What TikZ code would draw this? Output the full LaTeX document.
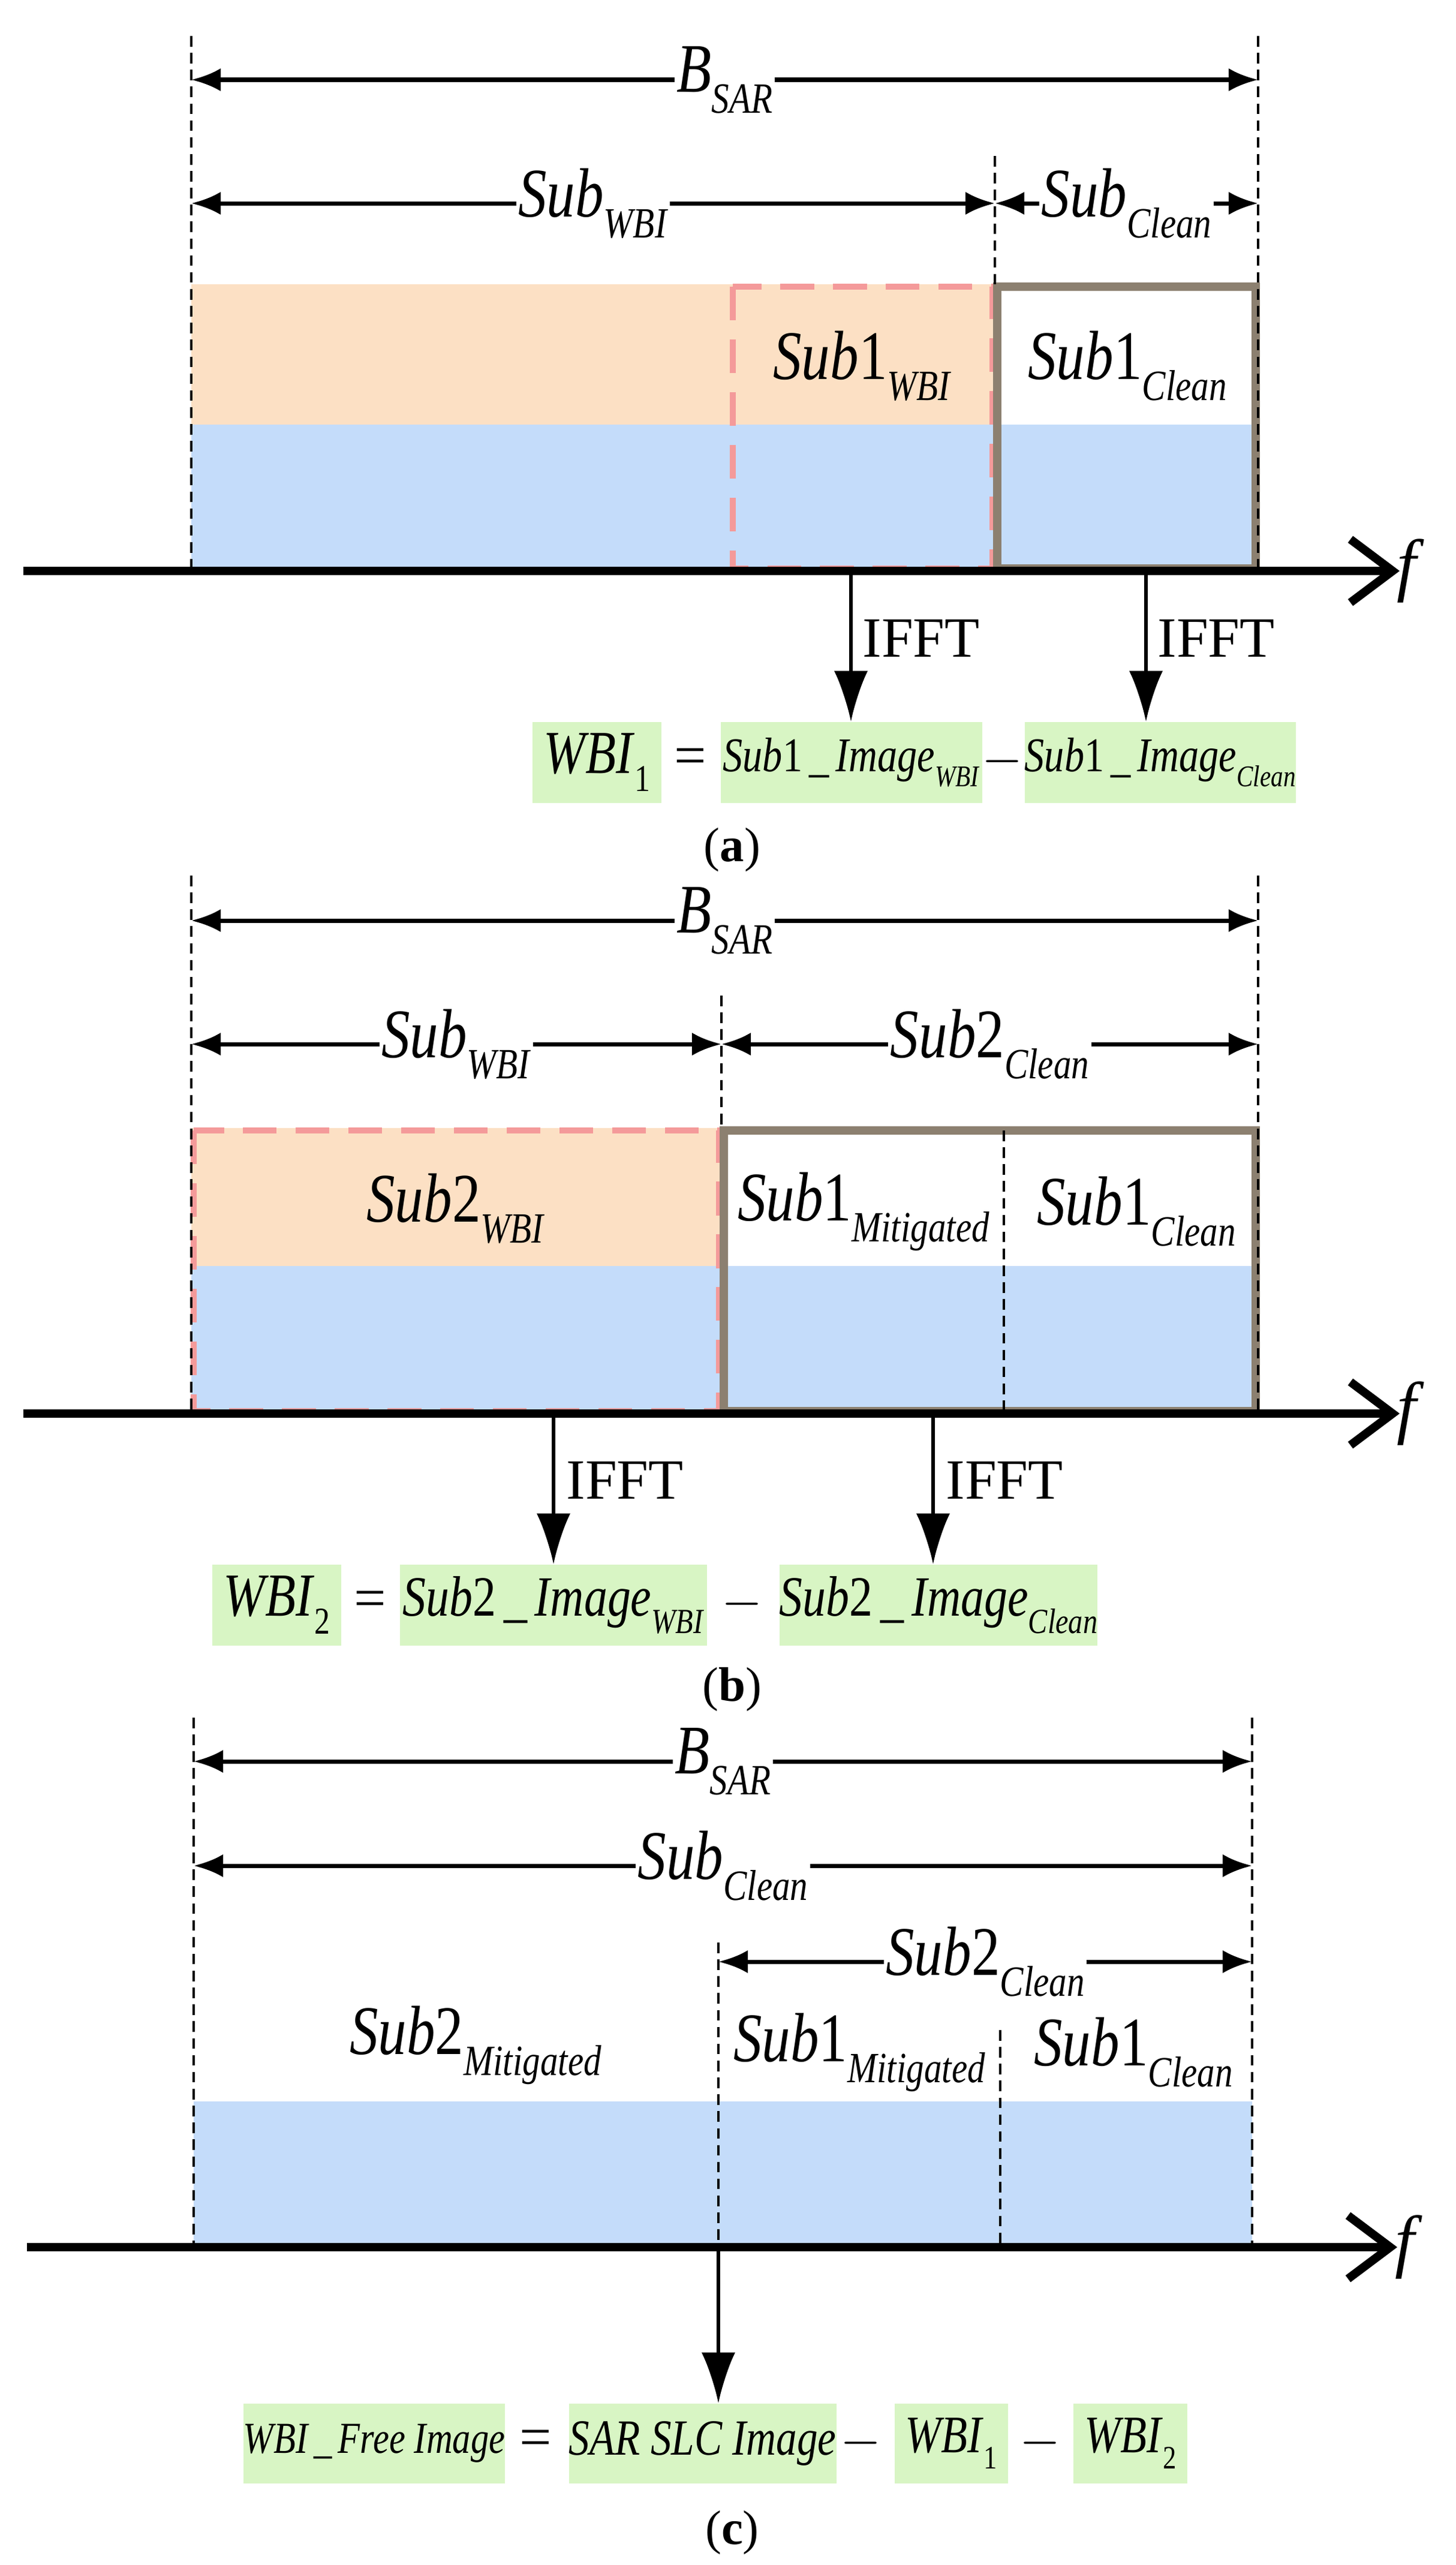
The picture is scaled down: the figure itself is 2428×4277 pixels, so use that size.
\documentclass[tikz,border=0pt]{standalone}
\usepackage{fontspec}
\setmainfont{Liberation Serif}
\usetikzlibrary{arrows.meta}
\definecolor{org}{HTML}{FCE0C4}
\definecolor{blu}{HTML}{C4DCFA}
\definecolor{grn}{HTML}{D8F5C4}
\definecolor{redd}{HTML}{F49A9A}
\definecolor{gry}{HTML}{8C8070}
\newcommand\lbl[2]{\scalebox{0.82}[1]{\textit{#1}\raisebox{-0.3em}{\scalebox{0.62}{\textit{#2}}}}}
\newcommand\up[1]{\textup{#1}}
\begin{document}
\begin{tikzpicture}[x=0.01cm,y=-0.01cm,
  vdash/.style={dash pattern=on 5pt off 3pt,line width=1.2pt},
  dim/.style={{Latex[length=14pt,width=11pt]}-{Latex[length=14pt,width=11pt]},line width=2pt},
  big/.style={font=\fontsize{33}{33}\selectfont,fill=white,inner sep=1pt},
  lab/.style={font=\fontsize{33}{33}\selectfont,inner sep=1pt},
  axis/.style={line width=4pt,-{Straight Barb[length=20pt,width=30pt,line width=4pt]}},
  down/.style={line width=1.5pt,-{Latex[length=24pt,width=16pt]}},
  eq/.style={fill=grn,font=\fontsize{23}{23}\selectfont,inner sep=0pt,anchor=north west},
  ifft/.style={font=\fontsize{27}{27}\selectfont,anchor=west},
  captxt/.style={font=\fontsize{23}{23}\selectfont}]
\useasboundingbox (0,0) rectangle (2428,4277);
%================ (a)
\fill[org] (319,474) rectangle (1659,708);
\fill[blu] (319,708) rectangle (1659,952);
\fill[blu] (1659,708) rectangle (2098,952);
\draw[redd,line width=3pt,dash pattern=on 16pt off 9pt] (1222,478) rectangle (1655,948);
\draw[gry,line width=4pt] (1663,478) rectangle (2094,948);
\draw[vdash] (319,60) -- (319,952);
\draw[vdash] (2098,60) -- (2098,952);
\draw[vdash] (1659,260) -- (1659,474);
\coordinate (aL) at (319,133); \coordinate (aR) at (2098,133);
\draw[dim] (aL) -- node[big] (aB) {\lbl{B}{SAR}} (aR);
\coordinate (aL2) at (319,339); \coordinate (aM2) at (1659,339); \coordinate (aR2) at (2098,339);
\draw[dim] (aL2) -- node[big,pos=0.5] (aS1) {\lbl{Sub}{WBI}} (aM2);
\draw[dim] (aM2) -- node[big] (aS2) {\lbl{Sub}{Clean}} (aR2);
\node[lab] (aT1) at (1438,610) {\lbl{Sub\up{1}}{WBI}};
\node[lab] (aT2) at (1880,610) {\lbl{Sub\up{1}}{Clean}};
\coordinate (aX0) at (39,952); \coordinate (aX1) at (2334,952);
\draw[axis] (aX0) -- (aX1);
\node[lab,anchor=west] (af) at (2325,952) {\textit{f}};
\node[eq,minimum width=2.15cm,minimum height=1.35cm] (aE1) at (887,1203) {\fontsize{29}{29}\selectfont\lbl{WBI}{\up{1}}};
\node[font=\fontsize{27}{27}\selectfont] (aeq) at (1151,1270) {=};
\node[eq,minimum width=4.36cm,minimum height=1.35cm] (aE2) at (1201,1203) {\lbl{Sub\up{1}\,\_\,Image}{WBI}};
\node[font=\fontsize{27}{27}\selectfont] (amin) at (1672,1270) {$-$};
\node[eq,minimum width=4.36cm,minimum height=1.35cm] (aE3) at (1708,1203) {\lbl{Sub\up{1}\,\_\,Image}{Clean}};
\coordinate (aA1) at (1419,952); \coordinate (aA2) at (1911,952);
\draw[down] (aA1) -- (aE2.north -| aA1);
\draw[down] (aA2) -- (aE3.north -| aA2);
\node[ifft] (aI1) at (1426,1064) {IFFT};
\node[ifft] (aI2) at (1918,1064) {IFFT};
\node[captxt] (acap) at (1221,1417) {(\textbf{a})};
%================ (b)
\fill[org] (319,1881) rectangle (1203,2111);
\fill[blu] (319,2111) rectangle (2098,2357);
\draw[redd,line width=3pt,dash pattern=on 16pt off 9pt] (323,1885) rectangle (1199,2353);
\draw[gry,line width=4pt] (1207,1885) rectangle (2094,2353);
\draw[vdash] (319,1460) -- (319,2357);
\draw[vdash] (2098,1460) -- (2098,2357);
\draw[vdash] (1203,1660) -- (1203,1881);
\draw[vdash] (1674,1885) -- (1674,2353);
\coordinate (bL) at (319,1535); \coordinate (bR) at (2098,1535);
\draw[dim] (bL) -- node[big] (bB) {\lbl{B}{SAR}} (bR);
\coordinate (bL2) at (319,1741); \coordinate (bM2) at (1203,1741); \coordinate (bR2) at (2098,1741);
\draw[dim] (bL2) -- node[big] (bS1) {\lbl{Sub}{WBI}} (bM2);
\draw[dim] (bM2) -- node[big] (bS2) {\lbl{Sub\up{2}}{Clean}} (bR2);
\node[lab] (bT1) at (760,2015) {\lbl{Sub\up{2}}{WBI}};
\node[lab] (bT2) at (1440,2020) {\lbl{Sub\up{1}}{Mitigated}};
\node[lab] (bT3) at (1895,2020) {\lbl{Sub\up{1}}{Clean}};
\coordinate (bX0) at (39,2357); \coordinate (bX1) at (2334,2357);
\draw[axis] (bX0) -- (bX1);
\node[lab,anchor=west] (bf) at (2325,2357) {\textit{f}};
\node[eq,minimum width=2.15cm,minimum height=1.35cm] (bE1) at (353,2608) {\fontsize{29}{29}\selectfont\lbl{WBI}{\up{2}}};
\node[font=\fontsize{27}{27}\selectfont] (beq) at (617,2675) {=};
\node[eq,minimum width=5.12cm,minimum height=1.35cm] (bE2) at (666,2608) {\fontsize{27}{27}\selectfont\lbl{Sub\up{2}\,\_\,Image}{WBI}};
\node[font=\fontsize{27}{27}\selectfont] (bmin) at (1238,2675) {$-$};
\node[eq,minimum width=5.14cm,minimum height=1.35cm] (bE3) at (1299,2608) {\fontsize{27}{27}\selectfont\lbl{Sub\up{2}\,\_\,Image}{Clean}};
\coordinate (bA1) at (923,2357); \coordinate (bA2) at (1556,2357);
\draw[down] (bA1) -- (bE2.north -| bA1);
\draw[down] (bA2) -- (bE3.north -| bA2);
\node[ifft] (bI1) at (932,2468) {IFFT};
\node[ifft] (bI2) at (1565,2468) {IFFT};
\node[captxt] (bcap) at (1221,2817) {(\textbf{b})};
%================ (c)
\fill[blu] (323,3504) rectangle (2088,3747);
\draw[vdash] (323,2864) -- (323,3747);
\draw[vdash] (2088,2864) -- (2088,3747);
\draw[vdash] (1198,3239) -- (1198,3747);
\draw[vdash] (1668,3385) -- (1668,3747);
\coordinate (cL) at (323,2937); \coordinate (cR) at (2088,2937);
\draw[dim] (cL) -- node[big] (cB) {\lbl{B}{SAR}} (cR);
\coordinate (cL2) at (323,3111); \coordinate (cR2) at (2088,3111);
\draw[dim] (cL2) -- node[big] (cS1) {\lbl{Sub}{Clean}} (cR2);
\coordinate (cM3) at (1198,3271); \coordinate (cR3) at (2088,3271);
\draw[dim] (cM3) -- node[big] (cS2) {\lbl{Sub\up{2}}{Clean}} (cR3);
\node[lab] (cT1) at (793,3410) {\lbl{Sub\up{2}}{Mitigated}};
\node[lab] (cT2) at (1433,3422) {\lbl{Sub\up{1}}{Mitigated}};
\node[lab] (cT3) at (1890,3422) {\lbl{Sub\up{1}}{Clean}};
\coordinate (cX0) at (45,3747); \coordinate (cX1) at (2330,3747);
\draw[axis] (cX0) -- (cX1);
\node[lab,anchor=west] (cf) at (2322,3747) {\textit{f}};
\node[eq,minimum width=4.32cm,minimum height=1.33cm] (cE1) at (405,4007) {\fontsize{21}{21}\selectfont\scalebox{0.82}[1]{\textit{WBI\,\_\,Free Image}}};
\node[font=\fontsize{27}{27}\selectfont] (ceq) at (893,4074) {=};
\node[eq,minimum width=4.32cm,minimum height=1.33cm] (cE2) at (948,4007) {\fontsize{24}{24}\selectfont\scalebox{0.82}[1]{\textit{SAR SLC Image}}};
\node[font=\fontsize{27}{27}\selectfont] (cmin1) at (1436,4074) {$-$};
\node[eq,minimum width=1.89cm,minimum height=1.33cm] (cE3) at (1491,4007) {\fontsize{25}{25}\selectfont\lbl{WBI}{\up{1}}};
\node[font=\fontsize{27}{27}\selectfont] (cmin2) at (1735,4074) {$-$};
\node[eq,minimum width=1.90cm,minimum height=1.33cm] (cE4) at (1789,4007) {\fontsize{25}{25}\selectfont\lbl{WBI}{\up{2}}};
\coordinate (cA) at (1198,3747);
\draw[down] (cA) -- (cE2.north -| cA);
\node[captxt] (ccap) at (1221,4223) {(\textbf{c})};
\end{tikzpicture}
\end{document}
